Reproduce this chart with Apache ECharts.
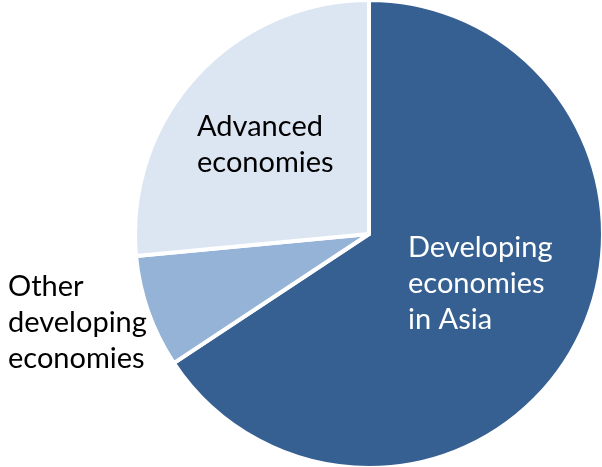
<!DOCTYPE html>
<html>
<head>
<meta charset="utf-8">
<script src="https://cdn.jsdelivr.net/npm/echarts@6/dist/echarts.min.js"></script>
<style>html,body{margin:0;padding:0;background:#fff;}#c{width:602px;height:467px;}</style>
</head>
<body>
<div id="c"></div>
<script>
const categories = ['Developing\neconomies\nin Asia', 'Other\ndeveloping\neconomies', 'Advanced\neconomies'];
const values = [65.7, 7.8, 26.5];
const colors = ['#376092', '#95B3D7', '#DCE6F2'];
const labelColors = ['#ffffff', '#000000', '#000000'];
// label anchor points (left x, vertical middle y)
const labelAnchors = [[408, 284], [8, 323], [197, 145]];

const chart = echarts.init(document.getElementById('c'), null, {renderer: 'canvas'});
chart.setOption({
  animation: false,
  series: [{
    type: 'pie',
    center: [369, 234],
    radius: [0, 234],
    startAngle: 90,
    clockwise: true,
    avoidLabelOverlap: false,
    itemStyle: {borderColor: '#ffffff', borderWidth: 4},
    label: {
      show: true,
      position: 'inside',
      formatter: p => p.name,
      fontFamily: 'Lato',
      fontSize: 29,
      lineHeight: 36,
      align: 'left'
    },
    labelLine: {show: false},
    labelLayout: function (params) {
      const a = labelAnchors[params.dataIndex];
      return {x: a[0], y: a[1], align: 'left', verticalAlign: 'middle'};
    },
    data: categories.map((c, i) => ({
      name: c,
      value: values[i],
      itemStyle: {color: colors[i]},
      label: {color: labelColors[i]}
    }))
  }]
});
</script>
</body>
</html>
